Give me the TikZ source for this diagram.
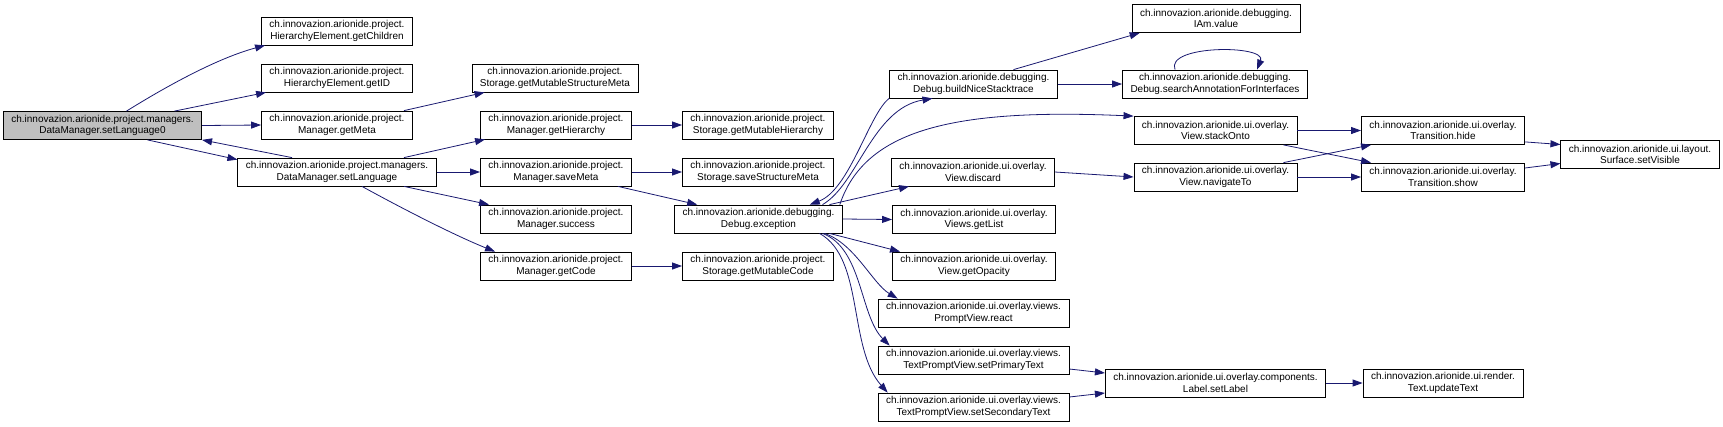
\documentclass[tikz,border=0pt]{standalone}
\usepackage{fontspec}
\setmainfont{Liberation Sans}
\usetikzlibrary{arrows.meta}
\definecolor{archi}{RGB}{25,25,112}
\definecolor{grigio}{RGB}{191,191,191}

\begin{document}
\begin{tikzpicture}[x=1bp, y=-1bp,
    fn/.style={draw, line width=0.8bp, fill=white, align=center, inner xsep=8bp, inner ysep=0pt,
        minimum height=28bp, font=\fontsize{10bp}{11.5bp}\selectfont},
    call/.style={-{Triangle[length=10bp,width=7bp]}, line width=0.8bp, draw=archi}]
    \useasboundingbox (0,0) rectangle (1723,426);

    % Nodi
    \node[fn, fill=grigio] (l0) at (102.5,125.5) {ch.innovazion.arionide.project.managers.\\DataManager.setLanguage0};
    \node[fn] (children) at (337,31) {ch.innovazion.arionide.project.\\HierarchyElement.getChildren};
    \node[fn] (getid) at (337,78) {ch.innovazion.arionide.project.\\HierarchyElement.getID};
    \node[fn] (getmeta) at (337,125) {ch.innovazion.arionide.project.\\Manager.getMeta};
    \node[fn] (setlang) at (337,172) {ch.innovazion.arionide.project.managers.\\DataManager.setLanguage};

    \node[fn] (smeta) at (555,78) {ch.innovazion.arionide.project.\\Storage.getMutableStructureMeta};
    \node[fn] (hier) at (556,125) {ch.innovazion.arionide.project.\\Manager.getHierarchy};
    \node[fn] (savemeta) at (556,172) {ch.innovazion.arionide.project.\\Manager.saveMeta};
    \node[fn] (success) at (556,219) {ch.innovazion.arionide.project.\\Manager.success};
    \node[fn] (getcode) at (556,266) {ch.innovazion.arionide.project.\\Manager.getCode};

    \node[fn] (mhier) at (758,125) {ch.innovazion.arionide.project.\\Storage.getMutableHierarchy};
    \node[fn] (ssmeta) at (758,172) {ch.innovazion.arionide.project.\\Storage.saveStructureMeta};
    \node[fn] (exc) at (758.5,219) {ch.innovazion.arionide.debugging.\\Debug.exception};
    \node[fn] (mcode) at (758,266) {ch.innovazion.arionide.project.\\Storage.getMutableCode};

    \node[fn] (nice) at (973.5,84) {ch.innovazion.arionide.debugging.\\Debug.buildNiceStacktrace};
    \node[fn] (discard) at (973,172) {ch.innovazion.arionide.ui.overlay.\\View.discard};
    \node[fn] (getlist) at (974,219.5) {ch.innovazion.arionide.ui.overlay.\\Views.getList};
    \node[fn] (opac) at (974,266) {ch.innovazion.arionide.ui.overlay.\\View.getOpacity};
    \node[fn] (react) at (973.5,313) {ch.innovazion.arionide.ui.overlay.views.\\PromptView.react};
    \node[fn] (prim) at (973.5,360) {ch.innovazion.arionide.ui.overlay.views.\\TextPromptView.setPrimaryText};
    \node[fn] (sec) at (973.5,407) {ch.innovazion.arionide.ui.overlay.views.\\TextPromptView.setSecondaryText};

    \node[fn] (iam) at (1216,18.5) {ch.innovazion.arionide.debugging.\\IAm.value};
    \node[fn] (search) at (1215,84) {ch.innovazion.arionide.debugging.\\Debug.searchAnnotationForInterfaces};
    \node[fn] (stack) at (1215.5,130.5) {ch.innovazion.arionide.ui.overlay.\\View.stackOnto};
    \node[fn] (nav) at (1215.5,177) {ch.innovazion.arionide.ui.overlay.\\View.navigateTo};
    \node[fn] (label) at (1215.5,383) {ch.innovazion.arionide.ui.overlay.components.\\Label.setLabel};

    \node[fn] (hide) at (1443,130.5) {ch.innovazion.arionide.ui.overlay.\\Transition.hide};
    \node[fn] (show) at (1443,177) {ch.innovazion.arionide.ui.overlay.\\Transition.show};
    \node[fn] (upd) at (1443,383) {ch.innovazion.arionide.ui.render.\\Text.updateText};
    \node[fn] (surf) at (1640,154.5) {ch.innovazion.arionide.ui.layout.\\Surface.setVisible};

    % Archi da DataManager
    \draw[call] ([xshift=24bp]l0.north) .. controls +(45,-28) and +(-45,12) .. ([xshift=4bp]children.south west);
    \draw[call] ([xshift=72bp]l0.north) -- ([xshift=5bp]getid.south west);
    \draw[call] (l0.east) -- (getmeta.west);
    \draw[call] ([xshift=45bp]l0.south) -- ([yshift=-2bp]setlang.north west);
    \draw[call] ([xshift=-45bp]setlang.north) -- (l0.south east);
    \draw[call] ([xshift=67bp]getmeta.north) -- ([xshift=13bp]smeta.south west);
    \draw[call] ([xshift=67bp]setlang.north) -- ([xshift=5bp]hier.south west);
    \draw[call] (setlang.east) -- (savemeta.west);
    \draw[call] ([xshift=67bp]setlang.south) -- ([xshift=9bp]success.north west);
    \draw[call] ([xshift=25bp]setlang.south) .. controls +(40,22) and +(-40,-16) .. ([xshift=15bp]getcode.north west);

    % Archi da Manager
    \draw[call] (hier.east) -- (mhier.west);
    \draw[call] (savemeta.east) -- (ssmeta.west);
    \draw[call] ([xshift=-14bp]savemeta.south east) -- ([xshift=23bp]exc.north west);
    \draw[call] (getcode.east) -- (mcode.west);

    % Archi da Debug.exception
    \draw[call] ([xshift=64bp]exc.north) .. controls +(35,-20) and +(-60,10) .. ([xshift=-41bp]nice.south);
    \draw[call] (nice.south west) .. controls +(-20,15) and +(40,-15) .. ([xshift=-33bp]exc.north east);
    \draw[call] ([xshift=-3bp]exc.north east) .. controls +(25,-75) and +(-180,-8) .. (stack.north west);
    \draw[call] ([xshift=71bp]exc.north) -- ([xshift=18bp]discard.south west);
    \draw[call] (exc.east) -- (getlist.west);
    \draw[call] ([xshift=71bp]exc.south) -- ([xshift=8bp]opac.north west);
    \draw[call] ([xshift=66bp]exc.south) .. controls +(30,10) and +(-25,-15) .. ([xshift=20bp]react.north west);
    \draw[call] ([xshift=64bp]exc.south) .. controls +(40,15) and +(-30,-30) .. ([xshift=12bp]prim.north west);
    \draw[call] ([xshift=61bp]exc.south) .. controls +(45,25) and +(-40,-45) .. ([xshift=10bp]sec.north west);

    % Archi a destra
    \draw[call] ([xshift=40bp]nice.north) -- ([xshift=8bp]iam.south west);
    \draw[call] (nice.east) -- (search.west);
    \draw[call] ([xshift=-40bp]search.north) .. controls +(-10,-25) and +(10,-25) .. ([xshift=42bp]search.north);
    \draw[call] (stack.east) -- (hide.west);
    \draw[call] ([xshift=-14bp]stack.south east) -- ([xshift=10bp]show.north west);
    \draw[call] (discard.east) -- (nav.west);
    \draw[call] ([xshift=-14bp]nav.north east) -- ([xshift=10bp]hide.south west);
    \draw[call] (nav.east) -- (show.west);
    \draw[call] ([yshift=3bp]hide.south east) -- ([yshift=10bp]surf.west);
    \draw[call] ([yshift=9bp]show.east) -- ([yshift=-9bp]surf.west);
    \draw[call] ([yshift=-9bp]prim.east) -- ([yshift=10bp]label.west);
    \draw[call] ([yshift=10bp]sec.east) -- ([yshift=-10bp]label.west);
    \draw[call] (label.east) -- (upd.west);
\end{tikzpicture}
\end{document}
